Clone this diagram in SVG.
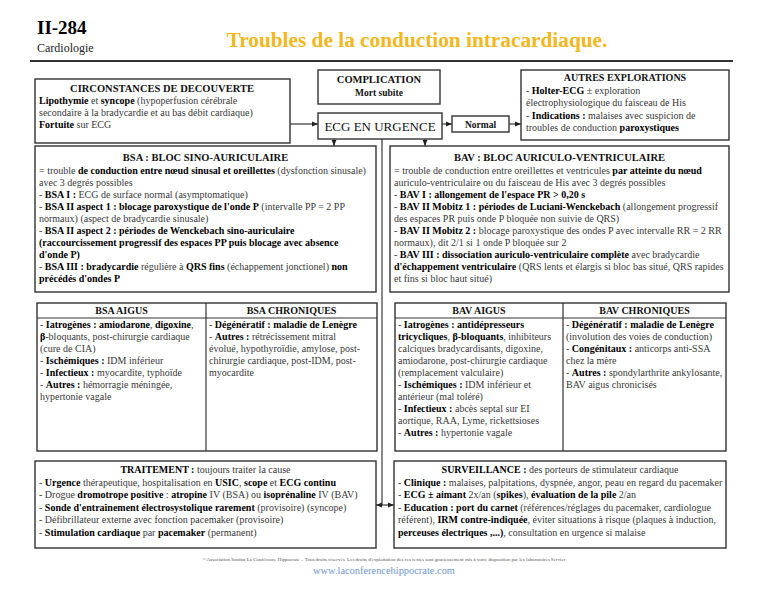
<svg xmlns="http://www.w3.org/2000/svg" width="768" height="594" viewBox="0 0 768 594">
<style>
text{font-family:"Liberation Serif","Times New Roman",serif;font-size:10px;fill:#383838}
.b{font-weight:bold;fill:#000}
.c{text-anchor:middle}
.h{font-weight:bold;fill:#111;text-anchor:middle}
.t{font-size:10.5px}
.box{fill:#fff;stroke:#333;stroke-width:1.4}
.cn{stroke:#333;stroke-width:1.2;fill:none}
.ln{stroke:#333;stroke-width:1.2}
</style>
<defs>
<marker id="ah" viewBox="0 0 10 10" refX="10" refY="5" markerWidth="5" markerHeight="5" orient="auto"><path d="M0,1 L10,5 L0,9 z" fill="#222"/></marker>
</defs>
<rect width="768" height="594" fill="#fff"/>
<g id="header">
<text x="37" y="34" style="font-size:19px;font-weight:bold;fill:#000">II-284</text>
<text x="37" y="52" style="font-size:12px;fill:#222">Cardiologie</text>
<line x1="30" y1="61" x2="733" y2="61" stroke="#333" stroke-width="2"/>
<text x="417" y="47" class="c" style="font-size:21.3px;font-weight:bold;fill:#F3B720">Troubles de la conduction intracardiaque.</text>
</g>
<g id="connectors">
<path class="cn" d="M290,124 H318" marker-end="url(#ah)"/>
<path class="cn" d="M442,124 H452" marker-end="url(#ah)"/>
<path class="cn" d="M509,124 H521" marker-end="url(#ah)"/>
<path class="cn" d="M334,139 V146" marker-end="url(#ah)"/>
<path class="cn" d="M425,139 V146" marker-end="url(#ah)"/>
<path d="M382,139 V146" stroke="#333" stroke-width="1.2" fill="none"/>
<path d="M382,146 V505" stroke="#8a8a8a" stroke-width="2" fill="none"/>
<path class="cn" d="M382,505 H376" marker-end="url(#ah)"/>
<path class="cn" d="M382,505 H394" marker-end="url(#ah)"/>
</g>
<g id="circonstances">
<rect class="box" x="35" y="79" width="255" height="64"/>
<text x="162" y="92" class="h t">CIRCONSTANCES DE DECOUVERTE</text>
<text x="39" y="103.5"><tspan class="b">Lipothymie</tspan> et <tspan class="b">syncope</tspan> (hypoperfusion cérébrale</text>
<text x="39" y="115.5">secondaire à la bradycardie et au bas débit cardiaque)</text>
<text x="39" y="127.5"><tspan class="b">Fortuite</tspan> sur ECG</text>
</g>
<g id="complication">
<rect class="box" x="318" y="70" width="122" height="34"/>
<text x="379" y="83" class="h t">COMPLICATION</text>
<text x="379" y="96" class="h" style="font-size:9.5px">Mort subite</text>
</g>
<g id="ecg">
<rect class="box" x="318" y="113" width="124" height="26"/>
<text x="380" y="131" class="c" style="font-size:13px;fill:#111">ECG EN URGENCE</text>
</g>
<g id="normal">
<rect class="box" x="452" y="116" width="57" height="16"/>
<text x="480.5" y="127.5" class="h" style="font-size:9.5px">Normal</text>
</g>
<g id="autres">
<rect class="box" x="521" y="70" width="208" height="70"/>
<text x="625" y="81" class="h">AUTRES EXPLORATIONS</text>
<text x="526" y="93.5">- <tspan class="b">Holter-ECG</tspan> ± exploration</text>
<text x="526" y="106">électrophysiologique du faisceau de His</text>
<text x="526" y="118.5">- <tspan class="b">Indications :</tspan> malaises avec suspicion de</text>
<text x="526" y="131">troubles de conduction <tspan class="b">paroxystiques</tspan></text>
</g>
<g id="bsa">
<rect class="box" x="35" y="146" width="341" height="146"/>
<text x="205.5" y="161" class="h t">BSA : BLOC SINO-AURICULAIRE</text>
<text x="39" y="173.5">= trouble <tspan class="b">de conduction entre nœud sinusal et oreillettes</tspan> (dysfonction sinusale)</text>
<text x="39" y="185.6">avec 3 degrés possibles</text>
<text x="39" y="197.7">- <tspan class="b">BSA I :</tspan> ECG de surface normal (asymptomatique)</text>
<text x="39" y="209.8">- <tspan class="b">BSA II aspect 1 : blocage paroxystique de l'onde P</tspan> (intervalle PP = 2 PP</text>
<text x="39" y="221.9">normaux) (aspect de bradycardie sinusale)</text>
<text x="39" y="234">- <tspan class="b">BSA II aspect 2 : périodes de Wenckebach sino-auriculaire</tspan></text>
<text x="39" y="246.1" class="b">(raccourcissement progressif  des espaces PP puis blocage avec absence</text>
<text x="39" y="258.2" class="b">d'onde P)</text>
<text x="39" y="270.3">- <tspan class="b">BSA III : bradycardie</tspan> régulière à <tspan class="b">QRS fins</tspan> (échappement jonctionel) <tspan class="b">non</tspan></text>
<text x="39" y="282.4" class="b">précédés d'ondes P</text>
</g>
<g id="bav">
<rect class="box" x="390" y="146" width="339" height="146"/>
<text x="559.5" y="161" class="h t">BAV : BLOC AURICULO-VENTRICULAIRE</text>
<text x="394" y="173.5">= trouble de conduction entre oreillettes et ventricules <tspan class="b">par atteinte du nœud</tspan></text>
<text x="394" y="185.6">auriculo-ventriculaire ou du faisceau de His avec 3 degrés possibles</text>
<text x="394" y="197.7">- <tspan class="b">BAV I : allongement de l'espace PR &gt; 0,20 s</tspan></text>
<text x="394" y="209.8">- <tspan class="b">BAV II Mobitz 1 : périodes de Luciani-Wenckebach</tspan> (allongement progressif</text>
<text x="394" y="221.9">des espaces PR puis onde P bloquée non suivie de QRS)</text>
<text x="394" y="234">- <tspan class="b">BAV II Mobitz 2 :</tspan> blocage paroxystique des ondes P avec intervalle RR = 2 RR</text>
<text x="394" y="246.1">normaux), dit 2/1 si 1 onde P bloquée sur 2</text>
<text x="394" y="258.2">- <tspan class="b">BAV III : dissociation auriculo-ventriculaire complète</tspan> avec bradycardie</text>
<text x="394" y="270.3"><tspan class="b">d'échappement ventriculaire</tspan> (QRS lents et élargis si bloc bas situé, QRS rapides</text>
<text x="394" y="282.4">et fins si bloc haut situé)</text>
</g>
<g id="bsa-table">
<rect class="box" x="37" y="303" width="340" height="148"/>
<line class="ln" x1="37" y1="318" x2="377" y2="318"/>
<line class="ln" x1="206" y1="303" x2="206" y2="451"/>
<text x="121.5" y="314" class="h">BSA AIGUS</text>
<text x="291.5" y="314" class="h">BSA CHRONIQUES</text>
<text x="40" y="328">- <tspan class="b">Iatrogènes : amiodarone</tspan>, <tspan class="b">digoxine</tspan>,</text>
<text x="40" y="340"><tspan class="b">β</tspan>-bloquants, post-chirurgie cardiaque</text>
<text x="40" y="352">(cure de CIA)</text>
<text x="40" y="364">- <tspan class="b">Ischémiques :</tspan> IDM inférieur</text>
<text x="40" y="376">- <tspan class="b">Infectieux :</tspan> myocardite, typhoïde</text>
<text x="40" y="388">- <tspan class="b">Autres :</tspan> hémorragie méningée,</text>
<text x="40" y="400">hypertonie vagale</text>
<text x="209" y="328">- <tspan class="b">Dégénératif : maladie de Lenègre</tspan></text>
<text x="209" y="340">- <tspan class="b">Autres :</tspan> rétrécissement mitral</text>
<text x="209" y="352">évolué, hypothyroïdie, amylose, post-</text>
<text x="209" y="364">chirurgie cardiaque, post-IDM, post-</text>
<text x="209" y="376">myocardite</text>
</g>
<g id="bav-table">
<rect class="box" x="395" y="303" width="331" height="148"/>
<line class="ln" x1="395" y1="318" x2="726" y2="318"/>
<line class="ln" x1="563" y1="303" x2="563" y2="451"/>
<text x="479" y="314" class="h">BAV AIGUS</text>
<text x="644.5" y="314" class="h">BAV CHRONIQUES</text>
<text x="398" y="328">- <tspan class="b">Iatrogènes : antidépresseurs</tspan></text>
<text x="398" y="340"><tspan class="b">tricycliques</tspan>, <tspan class="b">β-bloquants</tspan>, inhibiteurs</text>
<text x="398" y="352">calciques bradycardisants, digoxine,</text>
<text x="398" y="364">amiodarone, post-chirurgie cardiaque</text>
<text x="398" y="376">(remplacement valculaire)</text>
<text x="398" y="388">- <tspan class="b">Ischémiques :</tspan> IDM inférieur et</text>
<text x="398" y="400">antérieur (mal toléré)</text>
<text x="398" y="412">- <tspan class="b">Infectieux :</tspan> abcès septal sur EI</text>
<text x="398" y="424">aortique, RAA, Lyme, rickettsioses</text>
<text x="398" y="436">- <tspan class="b">Autres :</tspan> hypertonie vagale</text>
<text x="566" y="328">- <tspan class="b">Dégénératif : maladie de Lenègre</tspan></text>
<text x="566" y="340">(involution des voies de conduction)</text>
<text x="566" y="352">- <tspan class="b">Congénitaux :</tspan> anticorps anti-SSA</text>
<text x="566" y="364">chez la mère</text>
<text x="566" y="376">- <tspan class="b">Autres :</tspan> spondylarthrite ankylosante,</text>
<text x="566" y="388">BAV aigus chronicisés</text>
</g>
<g id="traitement">
<rect class="box" x="35" y="461" width="341" height="87"/>
<text x="205.5" y="473" class="c"><tspan class="b">TRAITEMENT :</tspan> toujours traiter la cause</text>
<text x="39" y="485.5">- <tspan class="b">Urgence</tspan> thérapeutique, hospitalisation en <tspan class="b">USIC</tspan>, <tspan class="b">scope</tspan> et <tspan class="b">ECG continu</tspan></text>
<text x="39" y="498">- Drogue <tspan class="b">dromotrope positive</tspan> : <tspan class="b">atropine</tspan> IV (BSA) ou <tspan class="b">isoprénaline</tspan> IV (BAV)</text>
<text x="39" y="510.5">- <tspan class="b">Sonde d'entraînement électrosystolique rarement</tspan> (provisoire) (syncope)</text>
<text x="39" y="523">- Défibrillateur externe avec fonction pacemaker (provisoire)</text>
<text x="39" y="535.5">- <tspan class="b">Stimulation cardiaque</tspan> par <tspan class="b">pacemaker</tspan> (permanent)</text>
</g>
<g id="surveillance">
<rect class="box" x="394" y="461" width="332" height="87"/>
<text x="560" y="473" class="c"><tspan class="b">SURVEILLANCE :</tspan> des porteurs de stimulateur cardiaque</text>
<text x="398" y="485.5">- <tspan class="b">Clinique :</tspan> malaises, palpitations, dyspnée, angor, peau en regard du pacemaker</text>
<text x="398" y="498">- <tspan class="b">ECG ± aimant</tspan> 2x/an (<tspan class="b">spikes</tspan>), <tspan class="b">évaluation de la pile</tspan> 2/an</text>
<text x="398" y="510.5">- <tspan class="b">Education : port du carnet</tspan> (références/réglages du pacemaker, cardiologue</text>
<text x="398" y="523">référent), <tspan class="b">IRM contre-indiquée</tspan>, éviter situations à risque (plaques à induction,</text>
<text x="398" y="535.5"><tspan class="b">perceuses électriques ,...)</tspan>, consultation en urgence si malaise</text>
</g>
<g id="footer">
<text x="384" y="561" class="c" style="font-size:5px;fill:#555">©Association Institut La Conférence Hippocrate – Tous droits réservés. Les droits d'exploitation des ces textes sont gracieusement mis à votre disposition par les laboratoires Servier</text>
<text x="384" y="574" class="c" style="font-size:10.4px;fill:#7096D0">www.laconferencehippocrate.com</text>
</g>
</svg>
